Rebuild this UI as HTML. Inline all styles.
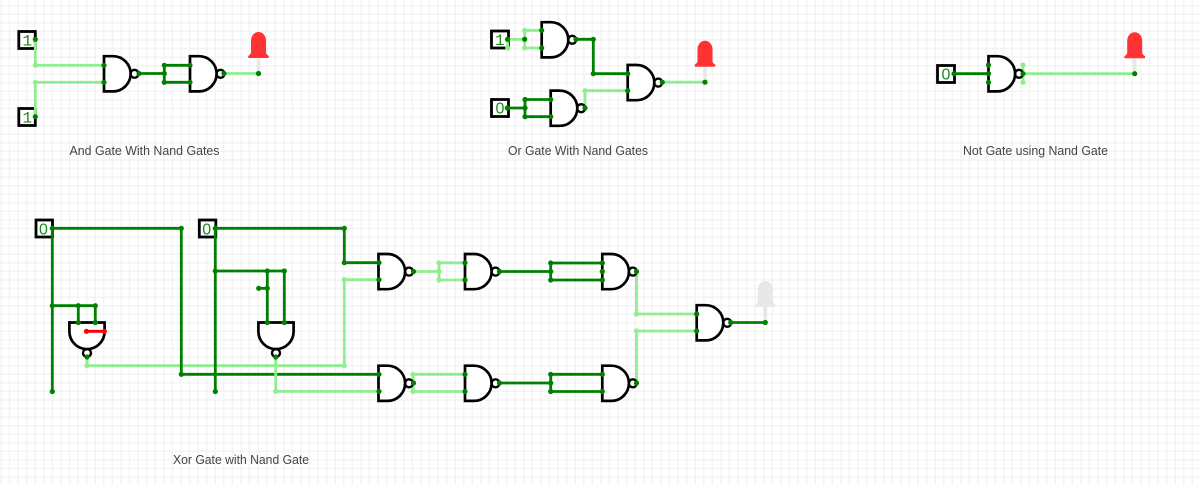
<!DOCTYPE html>
<html>
<head>
<meta charset="utf-8">
<style>
html,body{margin:0;padding:0;background:#fff;width:1200px;height:485px;overflow:hidden}
svg{display:block}
.g{fill:none;stroke:#f3f3f3;stroke-width:1.5}
.d{fill:none;stroke:#008000;stroke-width:2.8}
.l{fill:none;stroke:#90ee90;stroke-width:2.8}
.r{fill:none;stroke:#ff0000;stroke-width:2.8}
.dn circle{fill:#008000}
.ln circle{fill:#90ee90}
.lbl{font-family:"Liberation Sans",sans-serif;font-size:13px;fill:#444}
.box{fill:#fff;stroke:#000;stroke-width:2.8}
.v1{font-family:"Liberation Mono",monospace;font-size:16px;fill:#1a8a1a}
.v0{font-family:"Liberation Sans",sans-serif;font-size:16px;fill:#1a8a1a}
</style>
</head>
<body>
<svg width="1200" height="485" viewBox="0 0 1200 485" xmlns="http://www.w3.org/2000/svg">
<defs>
<path id="v10" class="g" d="M1,0v485m8.571-485v485m8.571-485v485m8.571-485v485m8.571-485v485m8.571-485v485m8.571-485v485m8.571-485v485m8.571-485v485m8.571-485v485"/>
<path id="h10" class="g" d="M0,5.7h1200m-1200,8.571h1200m-1200,8.571h1200m-1200,8.571h1200m-1200,8.571h1200m-1200,8.571h1200m-1200,8.571h1200m-1200,8.571h1200m-1200,8.571h1200m-1200,8.571h1200"/>
<g id="gate">
<circle cx="30.5" cy="0" r="4" fill="#fff" stroke="#000" stroke-width="2.4"/>
<path d="M0,-17.6 H9 A17.6,17.6 0 0 1 9,17.6 H0 Z" fill="#fff" stroke="#000" stroke-width="2.7"/>
</g>
<g id="led">
<rect x="-1.8" y="-16" width="3.6" height="16" fill="#e8e8e8"/>
<path d="M-7.5,-21 V-33 A7.5,8.5 0 0 1 7.5,-33 V-21 Q8,-18.5 10.5,-17.5 L10,-15.5 H-10 L-10.5,-17.5 Q-8,-18.5 -7.5,-21 Z"/>
</g>
</defs>
<rect width="1200" height="485" fill="#fff"/>
<use href="#v10" x="0"/><use href="#v10" x="85.71"/><use href="#v10" x="171.42"/><use href="#v10" x="257.13"/><use href="#v10" x="342.84"/><use href="#v10" x="428.55"/><use href="#v10" x="514.26"/><use href="#v10" x="599.97"/><use href="#v10" x="685.68"/><use href="#v10" x="771.39"/><use href="#v10" x="857.1"/><use href="#v10" x="942.81"/><use href="#v10" x="1028.52"/><use href="#v10" x="1114.23"/>
<use href="#h10" y="0"/><use href="#h10" y="85.71"/><use href="#h10" y="171.42"/><use href="#h10" y="257.13"/><use href="#h10" y="342.84"/>
<path class="g" d="M0,434.25h1200M0,442.82h1200M0,451.39h1200M0,459.96h1200M0,468.53h1200M0,477.1h1200"/>

<!-- AND -->
<rect class="box" x="18.8" y="31.5" width="16.5" height="17"/>
<text class="v1" x="22.5" y="45.5">1</text>
<rect class="box" x="18.8" y="108.5" width="16.5" height="17"/>
<text class="v1" x="22.5" y="122.5">1</text>
<path class="l" d="M35.3,39.3 V65.3 H104 M35.3,116.7 V82.3 H104"/>
<path class="d" d="M139,73.5 H164.3 M164.3,65.3 V82.3 M164.3,65.3 H190 M164.3,82.3 H190"/>
<path class="l" d="M224,73.5 H258.5"/>
<use href="#gate" x="104" y="73.8"/>
<use href="#gate" x="190" y="73.8"/>
<use href="#led" x="258.5" y="73.5" fill="#ff3333"/>
<g class="ln"><circle cx="35.3" cy="65.3" r="2.6"/><circle cx="35.3" cy="82.3" r="2.6"/></g>
<g class="dn">
<circle cx="35.3" cy="39.3" r="2.6"/><circle cx="35.3" cy="116.7" r="2.6"/>
<circle cx="104" cy="65.3" r="2.6"/><circle cx="104" cy="82.3" r="2.6"/>
<circle cx="139" cy="73.5" r="2.6"/><circle cx="164.3" cy="65.3" r="2.6"/><circle cx="164.3" cy="73.5" r="2.6"/><circle cx="164.3" cy="82.3" r="2.6"/>
<circle cx="190" cy="65.3" r="2.6"/><circle cx="190" cy="82.3" r="2.6"/>
<circle cx="224" cy="73.5" r="2.6"/><circle cx="258.5" cy="73.5" r="2.6"/>
</g>
<text class="lbl" x="69.5" y="155" textLength="150" lengthAdjust="spacingAndGlyphs">And Gate With Nand Gates</text>

<!-- OR -->
<rect class="box" x="491.5" y="31" width="17" height="17"/>
<text class="v1" x="495" y="45">1</text>
<rect class="box" x="491.5" y="99.5" width="17" height="17"/>
<text class="v0" x="495.5" y="113.5">0</text>
<path class="l" d="M507.7,39.3 V48 M507.7,39.3 H524.7 M524.7,30.3 V48 M524.7,30.3 H541.7 M524.7,48 H541.7"/>
<path class="d" d="M507.3,108 H525 M525,99.5 V116.7 M525,99.5 H550.7 M525,116.7 H550.7"/>
<path class="d" d="M576,39.3 H593.3 V73.7 H627.7"/>
<path class="l" d="M585,108 V90.7 H627.7"/>
<path class="l" d="M662.3,82.2 H705"/>
<use href="#gate" x="541.7" y="39.8"/>
<use href="#gate" x="550.7" y="108.2"/>
<use href="#gate" x="627.7" y="82.6"/>
<use href="#led" x="705" y="82.2" fill="#ff3333"/>
<g class="ln"><circle cx="507.7" cy="48" r="2.6"/><circle cx="524.7" cy="30.3" r="2.6"/><circle cx="524.7" cy="48" r="2.6"/><circle cx="585" cy="90.7" r="2.6"/></g>
<g class="dn">
<circle cx="507.5" cy="39.3" r="2.6"/><circle cx="524.7" cy="39.3" r="2.6"/>
<circle cx="541.7" cy="30.3" r="2.6"/><circle cx="541.7" cy="48" r="2.6"/>
<circle cx="507.3" cy="108" r="2.6"/><circle cx="525" cy="99.5" r="2.6"/><circle cx="525" cy="108" r="2.6"/><circle cx="525" cy="116.7" r="2.6"/>
<circle cx="550.7" cy="99.5" r="2.6"/><circle cx="550.7" cy="116.7" r="2.6"/>
<circle cx="576" cy="39.3" r="2.6"/><circle cx="593.3" cy="39.3" r="2.6"/><circle cx="593.3" cy="73.7" r="2.6"/>
<circle cx="627.7" cy="73.7" r="2.6"/><circle cx="627.7" cy="90.7" r="2.6"/>
<circle cx="585" cy="108" r="2.6"/><circle cx="662.3" cy="82.2" r="2.6"/><circle cx="705" cy="82.2" r="2.6"/>
</g>
<text class="lbl" x="508" y="155" textLength="140" lengthAdjust="spacingAndGlyphs">Or Gate With Nand Gates</text>

<!-- NOT -->
<rect class="box" x="937.5" y="65.5" width="17" height="17"/>
<text class="v0" x="941.5" y="79.5">0</text>
<path class="d" d="M954,73.7 H988.5"/>
<path class="l" d="M1023,65 V82.3 M1023,73.7 H1134.7"/>
<use href="#gate" x="988.5" y="73.8"/>
<use href="#led" x="1134.7" y="73.7" fill="#ff3333"/>
<g class="ln"><circle cx="1023" cy="65" r="2.6"/><circle cx="1023" cy="82.3" r="2.6"/></g>
<g class="dn">
<circle cx="954" cy="73.7" r="2.6"/><circle cx="988.5" cy="65" r="2.6"/><circle cx="988.5" cy="73.7" r="2.6"/><circle cx="988.5" cy="82.3" r="2.6"/>
<circle cx="1023" cy="73.7" r="2.6"/><circle cx="1134.7" cy="73.7" r="2.6"/>
</g>
<text class="lbl" x="963" y="155" textLength="145" lengthAdjust="spacingAndGlyphs">Not Gate using Nand Gate</text>

<!-- XOR -->
<rect class="box" x="36" y="220" width="16.5" height="17"/>
<text class="v0" x="39" y="234.5">0</text>
<rect class="box" x="199.3" y="220" width="16.5" height="17"/>
<text class="v0" x="202.3" y="234.5">0</text>

<path class="l" d="M87,357 V365.7 H344.3 V279.7 H379"/>
<path class="d" d="M52.3,228.3 H181.3 V374.3 H379"/>
<path class="d" d="M52.3,228.3 V391.5 M52.3,305.7 H95.3 V322.5 M78.3,305.7 V322.5"/>
<path class="d" d="M215.3,228.3 H344.3 V262.7 H379"/>
<path class="d" d="M215.3,228.3 V391.5 M215.3,271 H284.3 V322.5 M267.3,271 V322.5 M258.7,288.3 H267.3"/>
<path class="l" d="M275.7,357 V391.3 H379"/>

<path class="l" d="M413.5,271.5 H439 M439,262.8 V280 M439,262.8 H465 M439,280 H465"/>
<path class="d" d="M499.5,271.5 H550.7 M550.7,263 V280 M550.7,263 H602.3 M550.7,280 H602.3"/>
<path class="l" d="M413,374.3 V391.5 M413,374.3 H465 M413,391.5 H465"/>
<path class="d" d="M499.5,383 H550.7 M550.7,374.3 V391.5 M550.7,374.3 H602.3 M550.7,391.5 H602.3"/>
<path class="l" d="M636.5,271.5 V314 H696.7 M636.5,383 V331 H696.7"/>
<path class="d" d="M730.7,322.5 H765.3"/>

<use href="#gate" transform="translate(87,322.5) rotate(90)"/>
<use href="#gate" transform="translate(276,322.5) rotate(90)"/>
<use href="#gate" x="378.5" y="271.6"/>
<use href="#gate" x="465" y="271.6"/>
<use href="#gate" x="602.3" y="271.6"/>
<use href="#gate" x="378.5" y="383.3"/>
<use href="#gate" x="465" y="383.3"/>
<use href="#gate" x="602.3" y="383.3"/>
<use href="#gate" x="696.7" y="322.8"/>
<use href="#led" x="765.3" y="322.5" fill="#e8e8e8"/>

<path class="r" d="M86.5,331.3 H104.3"/>
<g fill="#ff0000"><circle cx="86.5" cy="331.3" r="2.6"/><circle cx="104.3" cy="331.3" r="2.6"/></g>

<g class="ln">
<circle cx="87" cy="365.7" r="2.6"/><circle cx="344.3" cy="365.7" r="2.6"/><circle cx="344.3" cy="279.7" r="2.6"/><circle cx="275.7" cy="391.3" r="2.6"/>
<circle cx="439" cy="262.8" r="2.6"/><circle cx="439" cy="280" r="2.6"/><circle cx="439" cy="271.5" r="2.6"/>
<circle cx="413" cy="374.3" r="2.6"/><circle cx="413" cy="391.5" r="2.6"/>
<circle cx="636.5" cy="314" r="2.6"/><circle cx="636.5" cy="331" r="2.6"/>
</g>
<g class="dn">
<circle cx="52.3" cy="228.3" r="2.6"/><circle cx="181.3" cy="228.3" r="2.6"/><circle cx="181.3" cy="374.3" r="2.6"/>
<circle cx="52.3" cy="391.5" r="2.6"/><circle cx="52.3" cy="305.7" r="2.6"/><circle cx="78.3" cy="305.7" r="2.6"/><circle cx="95.3" cy="305.7" r="2.6"/>
<circle cx="78.3" cy="322.5" r="2.6"/><circle cx="95.3" cy="322.5" r="2.6"/><circle cx="87" cy="357" r="2.6"/>
<circle cx="215.3" cy="228.3" r="2.6"/><circle cx="344.3" cy="228.3" r="2.6"/><circle cx="344.3" cy="262.7" r="2.6"/>
<circle cx="215.3" cy="391.5" r="2.6"/><circle cx="215.3" cy="271" r="2.6"/><circle cx="267.3" cy="271" r="2.6"/><circle cx="284.3" cy="271" r="2.6"/>
<circle cx="258.7" cy="288.3" r="2.6"/><circle cx="267.3" cy="288.3" r="2.6"/>
<circle cx="267.3" cy="322.5" r="2.6"/><circle cx="284.3" cy="322.5" r="2.6"/><circle cx="275.7" cy="357" r="2.6"/>
<circle cx="379" cy="262.7" r="2.6"/><circle cx="379" cy="279.7" r="2.6"/><circle cx="379" cy="374.3" r="2.6"/><circle cx="379" cy="391.3" r="2.6"/>
<circle cx="413.5" cy="271.5" r="2.6"/><circle cx="465" cy="262.8" r="2.6"/><circle cx="465" cy="280" r="2.6"/>
<circle cx="499.5" cy="271.5" r="2.6"/><circle cx="550.7" cy="263" r="2.6"/><circle cx="550.7" cy="271.5" r="2.6"/><circle cx="550.7" cy="280" r="2.6"/>
<circle cx="602.3" cy="263" r="2.6"/><circle cx="602.3" cy="271.5" r="2.6"/><circle cx="602.3" cy="280" r="2.6"/><circle cx="636.5" cy="271.5" r="2.6"/>
<circle cx="413.5" cy="383" r="2.6"/><circle cx="465" cy="374.3" r="2.6"/><circle cx="465" cy="391.5" r="2.6"/>
<circle cx="499.5" cy="383" r="2.6"/><circle cx="550.7" cy="374.3" r="2.6"/><circle cx="550.7" cy="383" r="2.6"/><circle cx="550.7" cy="391.5" r="2.6"/>
<circle cx="602.3" cy="374.3" r="2.6"/><circle cx="602.3" cy="391.5" r="2.6"/><circle cx="636.5" cy="383" r="2.6"/>
<circle cx="696.7" cy="314" r="2.6"/><circle cx="696.7" cy="331" r="2.6"/><circle cx="730.7" cy="322.5" r="2.6"/><circle cx="765.3" cy="322.5" r="2.6"/>
</g>
<text class="lbl" x="173" y="464" textLength="136" lengthAdjust="spacingAndGlyphs">Xor Gate with Nand Gate</text>
</svg>
</body>
</html>
